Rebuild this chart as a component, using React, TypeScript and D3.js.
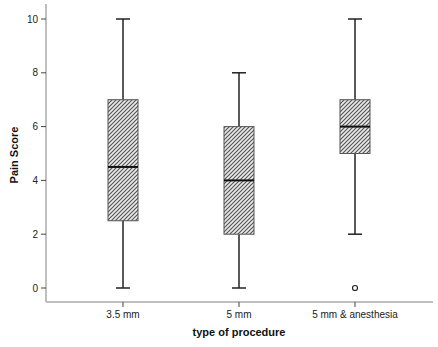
import React from "react";
import * as d3 from "d3";

const categories = ["3.5 mm", "5 mm", "5 mm & anesthesia"];
const mins = [0, 0, 2];
const q1s = [2.5, 2, 5];
const medians = [4.5, 4, 6];
const q3s = [7, 6, 7];
const maxs = [10, 8, 10];
const outliers: [number, number][] = [[2, 0]];
const yTicks = [0, 2, 4, 6, 8, 10];

export default function App() {
  const W = 438, H = 347;
  const x = d3.scalePoint<string>().domain(categories).range([123, 355]);
  const y = d3.scaleLinear().domain([0, 10]).range([288, 19]);
  const boxW = 30, capW = 14;
  const font = "'Liberation Sans', Arial, sans-serif";
  return (
    <svg width={W} height={H} style={{ position: "absolute", left: 0, top: 0, background: "#fff" }}>
      <defs>
        <pattern id="hatch" width="4" height="4" patternUnits="userSpaceOnUse">
          <rect width="4" height="4" fill="#ececec" />
          <path d="M-1,1 l2,-2 M0,4 l4,-4 M3,5 l2,-2" stroke="#555" strokeWidth="1.2" />
        </pattern>
      </defs>
      <line x1={46} x2={46} y1={4} y2={302} stroke="#aaa" strokeWidth={1.5} />
      <line x1={46} x2={433} y1={302} y2={302} stroke="#aaa" strokeWidth={1.5} />
      {yTicks.map((t) => (
        <g key={t}>
          <line x1={41} x2={46} y1={y(t)} y2={y(t)} stroke="#444" />
          <text x={38} y={y(t)} dy="0.35em" textAnchor="end" fontSize={10} fontFamily={font} fill="#222">{t}</text>
        </g>
      ))}
      {categories.map((c) => (
        <g key={c}>
          <line x1={x(c)} x2={x(c)} y1={302} y2={307} stroke="#444" />
          <text x={x(c)} y={318} textAnchor="middle" fontSize={10} fontFamily={font} fill="#222">{c}</text>
        </g>
      ))}
      <text x={239} y={336} textAnchor="middle" fontSize={11} fontWeight="bold" fontFamily={font} fill="#111">type of procedure</text>
      <text transform={`translate(18,155) rotate(-90)`} textAnchor="middle" fontSize={11} fontWeight="bold" fontFamily={font} fill="#111">Pain Score</text>
      {categories.map((c, i) => {
        const cx = x(c)!;
        return (
          <g key={c}>
            <line x1={cx} x2={cx} y1={y(maxs[i])} y2={y(q3s[i])} stroke="#222" strokeWidth={1.5} />
            <line x1={cx} x2={cx} y1={y(q1s[i])} y2={y(mins[i])} stroke="#222" strokeWidth={1.5} />
            <line x1={cx - capW / 2} x2={cx + capW / 2} y1={y(maxs[i])} y2={y(maxs[i])} stroke="#222" strokeWidth={1.5} />
            <line x1={cx - capW / 2} x2={cx + capW / 2} y1={y(mins[i])} y2={y(mins[i])} stroke="#222" strokeWidth={1.5} />
            <rect x={cx - boxW / 2} y={y(q3s[i])} width={boxW} height={y(q1s[i]) - y(q3s[i])} fill="url(#hatch)" stroke="#555" strokeWidth={1} />
            <line x1={cx - boxW / 2} x2={cx + boxW / 2} y1={y(medians[i])} y2={y(medians[i])} stroke="#111" strokeWidth={2} />
          </g>
        );
      })}
      {outliers.map(([ci, v], k) => (
        <circle key={k} cx={x(categories[ci])} cy={y(v)} r={2.5} fill="none" stroke="#222" strokeWidth={1.2} />
      ))}
    </svg>
  );
}
